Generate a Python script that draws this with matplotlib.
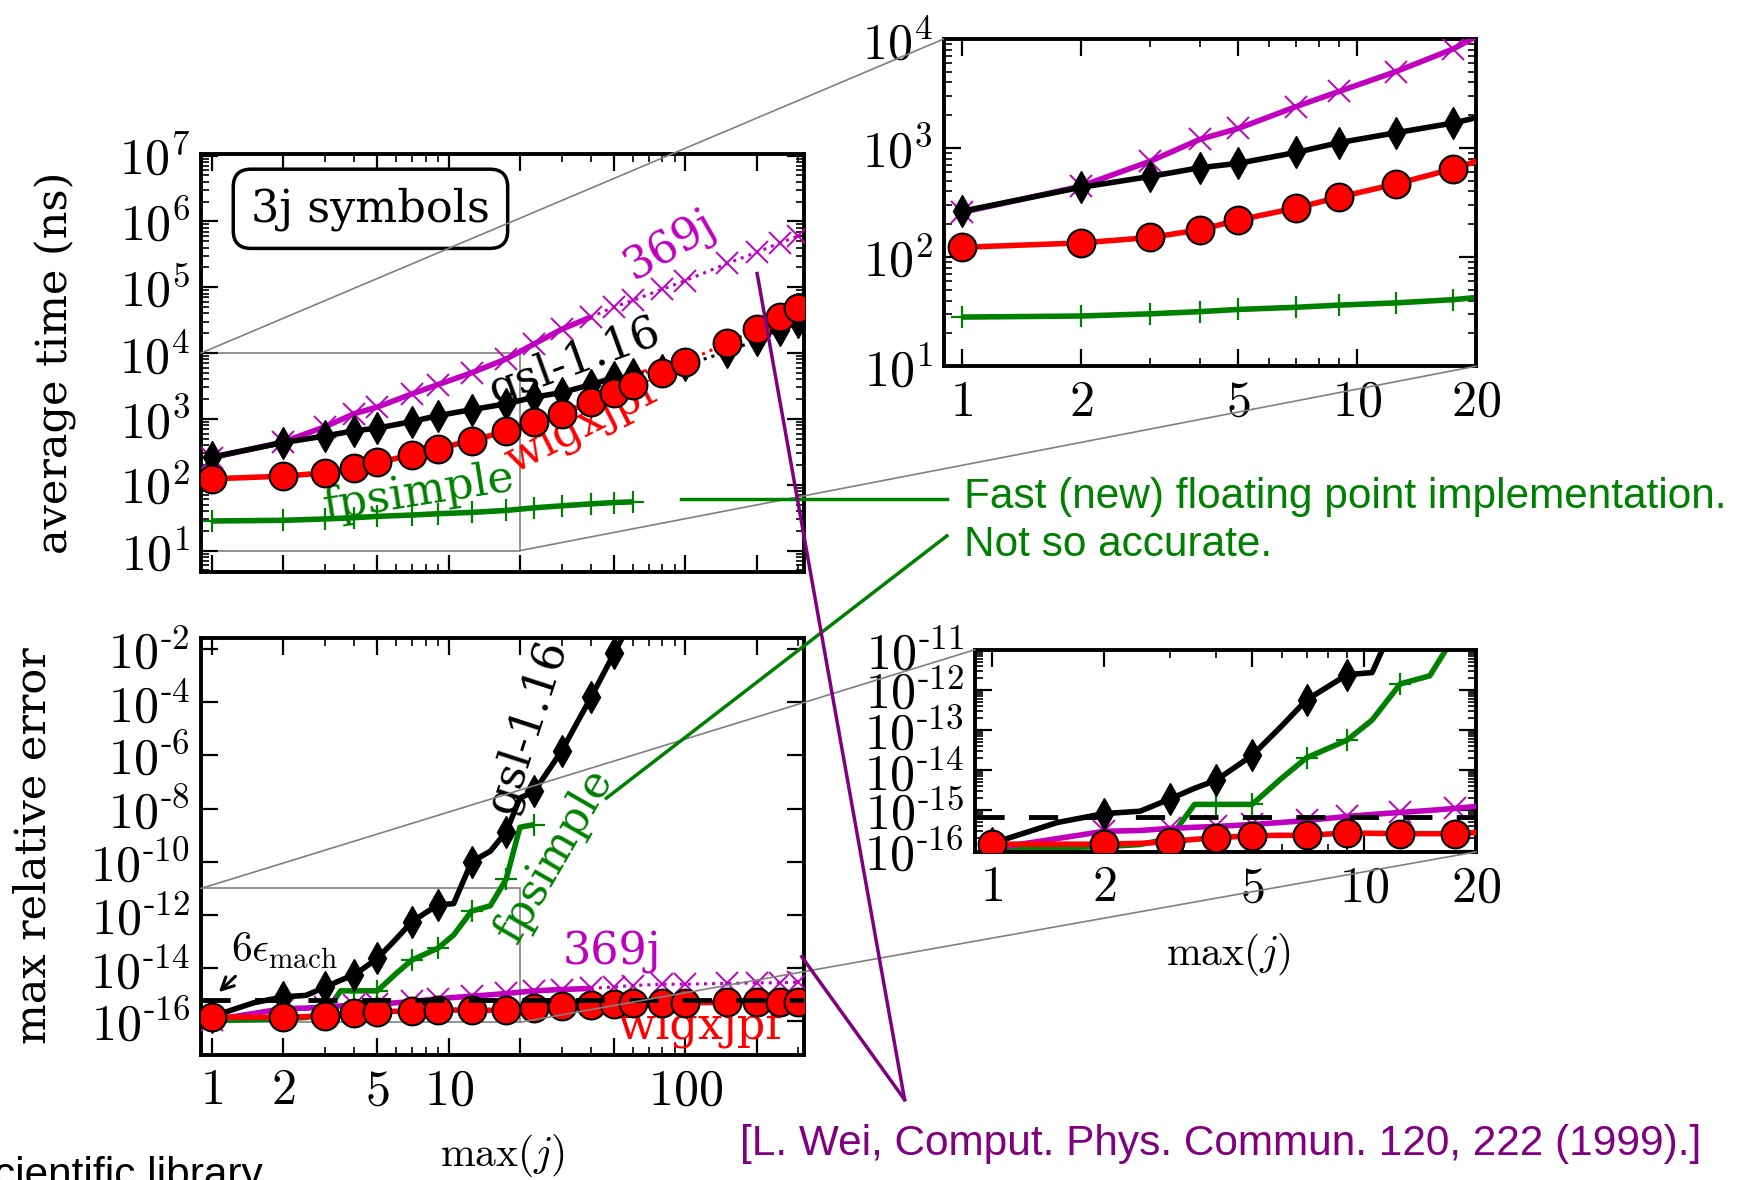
import numpy as np
import matplotlib
matplotlib.use('Agg')
import matplotlib.pyplot as plt
from matplotlib.ticker import (FixedLocator, FixedFormatter, LogLocator, FuncFormatter,
                               NullFormatter, NullLocator)
from matplotlib.patches import Rectangle, ConnectionPatch
from matplotlib.lines import Line2D

plt.rcParams['font.family'] = 'DejaVu Serif'
plt.rcParams['mathtext.fontset'] = 'cm'
plt.rcParams['axes.unicode_minus'] = False

# ---- average time (log10 of ns)
j_time = [1, 2, 3, 4, 5, 7, 9, 12.5, 17.5, 23, 30, 40, 50, 60, 80, 100, 150, 200, 250, 300]
t_wigxjpf = [2.09, 2.13, 2.18, 2.25, 2.34, 2.45, 2.55, 2.67, 2.81, 2.95, 3.08, 3.26, 3.40, 3.51,
             3.70, 3.87, 4.15, 4.36, 4.54, 4.68]
t_gsl = [2.42, 2.64, 2.74, 2.82, 2.86, 2.96, 3.05, 3.14, 3.23, 3.33, 3.40, 3.52, 3.63, 3.68,
         3.75, 3.82, 4.02, 4.20, 4.35, 4.47]
t_369j = [2.41, 2.65, 2.88, 3.08, 3.18, 3.38, 3.52, 3.70, 3.91, 4.14, 4.36, 4.55, 4.70, 4.80,
          4.97, 5.10, 5.36, 5.53, 5.67, 5.78]
t_fpsimple = [1.45, 1.46, 1.48, 1.50, 1.52, 1.54, 1.56, 1.58, 1.61, 1.65, 1.68, 1.71, 1.73, 1.74]

# ---- max relative error (log10)
j_err = [1, 1.5, 2, 2.5, 3, 3.5, 4, 5, 6, 7, 9, 10.5, 12.5, 15, 17.5, 20, 23, 30, 40, 50, 60,
         80, 100, 150, 200, 250, 300]
e_gsl = [-15.82, -15.3, -15.08, -15.02, -14.72, -14.45, -14.25, -13.63, -12.9, -12.25, -11.62,
         -11.57, -10.0, -9.6, -8.87, -7.6, -7.35, -5.83, -3.8, -2.16, -0.8]
e_fpsimple = [-15.97, -15.93, -15.9, -15.85, -15.7, -14.85, -14.85, -14.85, -14.2, -13.69, -13.25,
              -12.75, -11.85, -11.65, -10.65, -8.7, -8.6]
e_369j = [-15.95, -15.7, -15.52, -15.5, -15.45, -15.42, -15.4, -15.35, -15.3, -15.25, -15.15,
          -15.1, -15.05, -15.0, -14.95, -14.9, -14.85, -14.8, -14.76, -14.7, -14.65, -14.6,
          -14.6, -14.57, -14.55, -14.55, -14.52]
e_wigxjpf = [-15.84, -15.84, -15.84, -15.82, -15.78, -15.72, -15.68, -15.63, -15.62, -15.62,
             -15.56, -15.57, -15.58, -15.58, -15.58, -15.55, -15.5, -15.42, -15.37, -15.33,
             -15.32, -15.3, -15.3, -15.28, -15.28, -15.27, -15.27]
eps_mach = 1.11e-16

# how far the solid (thick) part of each curve goes, in points
solid_time = {'wigxjpf': 13, 'gsl': 13, '369j': 12, 'fpsimple': 14}
solid_err = {'wigxjpf': 27, 'gsl': 21, '369j': 19, 'fpsimple': 17}

C369 = (0.75, 0, 0.75)
CGRN = '#008000'
CPUR = '#800080'
TICK_FS = 36
LAB_FS = 32

fig = plt.figure(figsize=(17.51, 11.80), dpi=100)

ax_tl = fig.add_axes([0.1148, 0.5156, 0.3444, 0.3538])
ax_bl = fig.add_axes([0.1148, 0.1060, 0.3444, 0.3529])
ax_tr = fig.add_axes([0.5389, 0.6897, 0.3042, 0.2772])
ax_br = fig.add_axes([0.5568, 0.2781, 0.2863, 0.1713])

styles = {
    'fpsimple': dict(color=CGRN, marker='+', ms=16, mew=1.6, mfc=CGRN, mec=CGRN, z=2),
    '369j': dict(color=C369, marker='x', ms=16, mew=1.4, mfc=C369, mec=C369, z=3),
    'gsl': dict(color='k', marker='d', ms=16, mew=1, mfc='k', mec='k', z=4),
    'wigxjpf': dict(color='r', marker='o', ms=20, mew=1.5, mfc='r', mec='k', z=5),
}


def curve(ax, x, ylog, name, n_solid, markevery=None):
    st = styles[name]
    x = np.array(x[:len(ylog)])
    y = 10 ** np.array(ylog)
    ax.plot(x[:n_solid], y[:n_solid], '-', color=st['color'], lw=4, zorder=st['z'],
            solid_capstyle='butt')
    ax.plot(x, y, ':', color=st['color'], lw=2.2, marker=st['marker'], ms=st['ms'],
            mew=st['mew'], mfc=st['mfc'], mec=st['mec'], markevery=markevery,
            zorder=st['z'] + 0.5)


mark_err = [i for i, j in enumerate(j_err) if j in j_time]

for ax in (ax_tl, ax_tr):
    curve(ax, j_time, t_fpsimple, 'fpsimple', solid_time['fpsimple'])
    curve(ax, j_time, t_369j, '369j', solid_time['369j'])
    curve(ax, j_time, t_gsl, 'gsl', solid_time['gsl'])
    curve(ax, j_time, t_wigxjpf, 'wigxjpf', solid_time['wigxjpf'])

for ax in (ax_bl, ax_br):
    for name, vals in (('fpsimple', e_fpsimple), ('369j', e_369j), ('gsl', e_gsl),
                       ('wigxjpf', e_wigxjpf)):
        me = [i for i in mark_err if i < len(vals)]
        curve(ax, j_err, vals, name, solid_err[name], markevery=me)
    ax.axhline(6 * eps_mach, color='k', lw=3.5, ls=(0, (6, 5)), zorder=8)


def pow10(v, pos):
    k = int(round(np.log10(v)))
    if k < 0:
        return r'$10^{\text{-}%d}$' % (-k)
    return r'$10^{%d}$' % k


# ---- axes setup
for ax in (ax_tl, ax_bl, ax_tr, ax_br):
    ax.set_xscale('log')
    ax.set_yscale('log')
    for s in ax.spines.values():
        s.set_linewidth(2.8)
    ax.tick_params(which='both', direction='in', top=True, right=True, labelsize=TICK_FS)
    ax.tick_params(which='major', length=12, width=1.6, pad=8)
    ax.tick_params(which='minor', length=6, width=1.2)

ax_tl.set_xlim(0.9, 317)
ax_bl.set_xlim(0.9, 317)
ax_tl.set_ylim(4.8, 1.05e7)
ax_bl.set_ylim(5.5e-18, 2.5e-2)
ax_tr.set_xlim(0.9, 20)
ax_br.set_xlim(0.9, 20)
ax_tr.set_ylim(10, 1e4)
ax_br.set_ylim(9.3e-17, 1e-11)

for ax in (ax_tl, ax_bl):
    ax.xaxis.set_major_locator(FixedLocator([1, 2, 5, 10, 20, 50, 100, 200]))
    ax.xaxis.set_minor_locator(FixedLocator([3, 4, 6, 7, 8, 9, 30, 40, 60, 70, 80, 90, 300]))
    ax.xaxis.set_minor_formatter(NullFormatter())
ax_tl.xaxis.set_major_formatter(NullFormatter())
ax_bl.xaxis.set_major_formatter(
    FixedFormatter(['$1$', '$2$', '$5$', '$10$', '', '', '$100$', '']))

for ax in (ax_tr, ax_br):
    ax.xaxis.set_major_locator(FixedLocator([1, 2, 5, 10, 20]))
    ax.xaxis.set_minor_locator(FixedLocator([3, 4, 6, 7, 8, 9]))
    ax.xaxis.set_major_formatter(FixedFormatter(['$1$', '$2$', '$5$', '$10$', '$20$']))
    ax.xaxis.set_minor_formatter(NullFormatter())

for ax in (ax_tl, ax_tr, ax_br):
    ax.yaxis.set_major_locator(LogLocator(base=10, numticks=30))
    ax.yaxis.set_minor_locator(LogLocator(base=10, subs=np.arange(2, 10), numticks=30))
    ax.yaxis.set_major_formatter(FuncFormatter(pow10))
    ax.yaxis.set_minor_formatter(NullFormatter())
ax_bl.yaxis.set_major_locator(FixedLocator([10.0 ** k for k in range(-16, -1, 2)]))
ax_bl.yaxis.set_major_formatter(FuncFormatter(pow10))
ax_bl.yaxis.set_minor_locator(NullLocator())

# ---- zoom rectangles and connector lines
for big, small in ((ax_tl, ax_tr), (ax_bl, ax_br)):
    x0, x1 = small.get_xlim()
    y0, y1 = small.get_ylim()
    big.add_patch(Rectangle((x0, y0), x1 - x0, y1 - y0, fill=False, ec='gray', lw=1.2,
                            zorder=1))
    for xa, ya in ((x0, y1), (x1, y0)):
        con = ConnectionPatch(xyA=(xa, ya), coordsA=big.transData, xyB=(xa, ya),
                              coordsB=small.transData, color='gray', lw=1.2)
        fig.add_artist(con)

# ---- labels inside panels
ax_tl.text(0.281, 0.869, '3j symbols', transform=ax_tl.transAxes, fontsize=LAB_FS,
           ha='center', va='center',
           bbox=dict(boxstyle='round,pad=0.4', fc='white', ec='k', lw=2.5))
ax_tl.text(0.778, 0.78, '369j', transform=ax_tl.transAxes, fontsize=LAB_FS, color=C369,
           rotation=30, ha='center', va='center')
ax_tl.text(0.62, 0.505, 'gsl-1.16', transform=ax_tl.transAxes, fontsize=LAB_FS, color='k',
           rotation=20, ha='center', va='center')
ax_tl.text(0.63, 0.35, 'wigxjpf', transform=ax_tl.transAxes, fontsize=LAB_FS, color='r',
           rotation=27, ha='center', va='center')
ax_tl.text(0.36, 0.19, 'fpsimple', transform=ax_tl.transAxes, fontsize=LAB_FS, color=CGRN,
           rotation=9, ha='center', va='center')

ax_bl.text(0.54, 0.79, 'gsl-1.16', transform=ax_bl.transAxes, fontsize=LAB_FS, color='k',
           rotation=72, ha='center', va='center')
ax_bl.text(0.585, 0.48, 'fpsimple', transform=ax_bl.transAxes, fontsize=LAB_FS, color=CGRN,
           rotation=60, ha='center', va='center')
ax_bl.text(0.682, 0.245, '369j', transform=ax_bl.transAxes, fontsize=LAB_FS, color=C369,
           ha='center', va='center')
ax_bl.text(0.826, 0.07, 'wigxjpf', transform=ax_bl.transAxes, fontsize=LAB_FS, color='r',
           ha='center', va='center')
ax_bl.annotate(r'$6\epsilon_{\rm mach}$', xy=(1.07, 10 ** -14.9), xytext=(1.2, 10 ** -13.3),
               fontsize=30, ha='left', va='center', zorder=10,
               arrowprops=dict(arrowstyle='->', lw=2.2, color='k', relpos=(0.1, 0.0),
                               shrinkA=3, shrinkB=0, mutation_scale=22))

# ---- axis titles
fig.text(0.0319, 0.6925, 'average time (ns)', rotation=90, fontsize=31, ha='center',
         va='center')
fig.text(0.0191, 0.283, 'max relative error', rotation=90, fontsize=31, ha='center',
         va='center')
fig.text(0.287, 0.021, r'$\max(j)$', fontsize=30, ha='center', va='center')
fig.text(0.7015, 0.191, r'$\max(j)$', fontsize=30, ha='center', va='center')

# ---- annotations outside the panels
sans = ['Liberation Sans', 'DejaVu Sans']
fig.add_artist(Line2D([0.389, 0.5408], [0.5771, 0.5771], color=CGRN, lw=2.5))
fig.add_artist(Line2D([0.5408, 0.3463], [0.5459, 0.3236], color=CGRN, lw=2.5))
fig.text(0.5504, 0.579, 'Fast (new) floating point implementation.', color=CGRN,
         family=sans, fontsize=30.5, va='center')
fig.text(0.5504, 0.538, 'Not so accurate.', color=CGRN, family=sans, fontsize=30.5,
         va='center')

fig.add_artist(Line2D([0.4324, 0.5166], [0.7682, 0.0681], color=CPUR, lw=2.5))
fig.add_artist(Line2D([0.4579, 0.5166], [0.1892, 0.0681], color=CPUR, lw=2.5))
fig.text(0.4228, 0.0303, '[L. Wei, Comput. Phys. Commun. 120, 222 (1999).]', color=CPUR,
         family=sans, fontsize=30.5, va='center')
fig.text(0.150, -0.006, 'GNU scientific library', color='k', family=sans, fontsize=30.5,
         ha='right', va='baseline')

fig.savefig('out.png', dpi=100)
